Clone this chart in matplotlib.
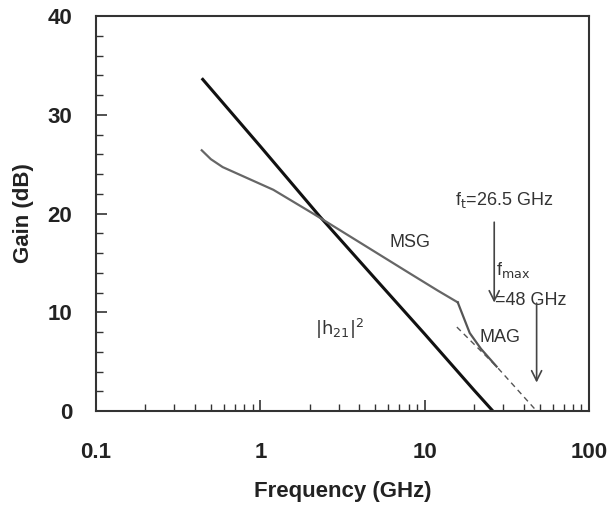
import matplotlib
matplotlib.use("Agg")
import matplotlib.pyplot as plt
import numpy as np
from matplotlib.ticker import LogLocator, FixedLocator, NullFormatter

plt.rcParams['font.family'] = ['Liberation Sans', 'DejaVu Sans']

# |h21|^2 (dB) vs frequency (GHz)
h21_f = [0.44, 1.0, 2.3, 5.0, 10.0, 20.0, 26.0]
h21_g = [33.7, 26.8, 19.7, 13.4, 7.8, 2.1, 0.0]

# MSG (measured) vs frequency
msg_f = [0.44, 0.50, 0.59, 1.2, 2.09, 4.0, 8.0, 12.0, 15.9]
msg_g = [26.4, 25.5, 24.7, 22.4, 20.0, 17.1, 14.0, 12.2, 11.0]

# MAG (measured) vs frequency
mag_f = [15.9, 16.6, 18.8, 22.0, 27.4]
mag_g = [11.0, 10.2, 7.9, 6.3, 4.5]

# extrapolation to fmax
ext_f = [15.7, 27.4, 48.0]
ext_g = [8.5, 4.5, 0.0]

ft = 26.5
fmax = 48.0

fig = plt.figure(figsize=(6.10, 5.12), dpi=100)
ax = fig.add_axes([96/610, 1-411/512, (589-96)/610, (411-16)/512])

ax.plot(h21_f, h21_g, color='#111111', lw=2.2, solid_capstyle='butt')
ax.plot(msg_f, msg_g, color='#666666', lw=1.6)
ax.plot(mag_f, mag_g, color='#555555', lw=1.6)
ax.plot(ext_f, ext_g, color='#555555', lw=1.0, ls=(0, (4, 3)))

ax.set_xscale('log')
ax.set_xlim(0.1, 100)
ax.set_ylim(0, 40)
ax.set_xticks([0.1, 1, 10, 100])
ax.set_xticklabels(['0.1', '1', '10', '100'])
ax.xaxis.set_minor_locator(LogLocator(base=10, subs=np.arange(2, 10)))
ax.xaxis.set_minor_formatter(NullFormatter())
ax.set_yticks([0, 10, 20, 30, 40])
ax.yaxis.set_minor_locator(FixedLocator(np.arange(0, 41, 2)))

ax.tick_params(which='both', direction='in', top=False, right=False,
               color='#333333')
ax.tick_params(which='major', length=8, width=1.2, labelsize=16)
ax.tick_params(axis='x', which='major', pad=22)
ax.tick_params(axis='y', which='major', pad=17)
ax.tick_params(which='minor', length=5, width=1.0)
for lab in ax.get_xticklabels() + ax.get_yticklabels():
    lab.set_fontweight('bold')
    lab.set_color('#222222')
for sp in ax.spines.values():
    sp.set_linewidth(1.5)
    sp.set_color('#333333')

ax.set_xlabel('Frequency (GHz)', fontsize=16, fontweight='bold',
              color='#222222', labelpad=13)
ax.set_ylabel('Gain (dB)', fontsize=16, fontweight='bold',
              color='#222222', labelpad=10)

fs = 13
ax.text(6.1, 16.6, 'MSG', fontsize=fs, color='#333333')
ax.text(2.15, 7.7, r'$|\mathrm{h}_{21}|^2$', fontsize=fs, color='#333333')
ax.text(21.6, 7.0, 'MAG', fontsize=fs, color='#333333')
ax.text(15.2, 20.9, r'f$_\mathrm{t}$=26.5 GHz', fontsize=fs, color='#333333')
ax.text(27.0, 13.8, r'f$_\mathrm{max}$', fontsize=fs, color='#333333')
ax.text(26.8, 10.7, '=48 GHz', fontsize=fs, color='#333333')

ax.annotate('', xy=(ft, 10.7), xytext=(ft, 19.4),
            arrowprops=dict(arrowstyle='->', color='#444444', lw=1.2,
                            mutation_scale=18))
ax.annotate('', xy=(fmax, 2.6), xytext=(fmax, 11.2),
            arrowprops=dict(arrowstyle='->', color='#444444', lw=1.2,
                            mutation_scale=18))

fig.savefig('out.png', dpi=100)
